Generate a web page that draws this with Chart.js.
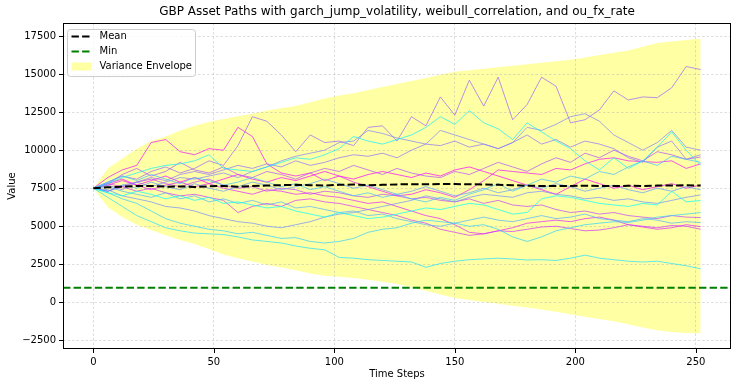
<!DOCTYPE html>
<html>
<head>
<meta charset="utf-8">
<script src="https://cdn.jsdelivr.net/npm/chart.js@4.4.0/dist/chart.umd.min.js"></script>
<style>
  html, body { margin: 0; padding: 0; background: #fff; }
</style>
</head>
<body>
<canvas id="myChart" width="738" height="387"></canvas>
<script>
// time steps
const steps = [0, 6, 12, 18, 24, 30, 36, 42, 48, 54, 60, 66, 72, 78, 84, 90, 96, 102, 108, 114, 120, 126, 132, 138, 144, 150, 156, 162, 168, 174, 180, 186, 192, 198, 204, 210, 216, 222, 228, 234, 240, 246, 252];
const xTicks = [0, 50, 100, 150, 200, 250];
const yTicks = [-2500, 0, 2500, 5000, 7500, 10000, 12500, 15000, 17500];
const xLimits = [-12.6, 264.6];
const yLimits = [-3070, 18360];
const chartTitle = 'GBP Asset Paths with garch_jump_volatility, weibull_correlation, and ou_fx_rate';

const meanValues = [7500, 7560, 7600, 7640, 7650, 7600, 7620, 7580, 7620, 7650, 7600, 7640, 7680, 7700, 7720, 7700, 7680, 7720, 7740, 7700, 7720, 7750, 7760, 7760, 7770, 7770, 7760, 7740, 7720, 7700, 7660, 7650, 7640, 7650, 7660, 7650, 7640, 7660, 7650, 7670, 7680, 7690, 7680];
const minValue = 960;
const envUpper = [7500, 8800, 9450, 10100, 10600, 10900, 11300, 11600, 11850, 12050, 12230, 12400, 12600, 12750, 12900, 13150, 13400, 13600, 13750, 13950, 14150, 14350, 14550, 14750, 14950, 15150, 15250, 15350, 15450, 15550, 15650, 15750, 15850, 15950, 16100, 16250, 16400, 16550, 16800, 17050, 17150, 17250, 17325];
const envLower = [7500, 6250, 5600, 5100, 4750, 4400, 4100, 3830, 3500, 3150, 2900, 2680, 2450, 2280, 2100, 1900, 1750, 1680, 1600, 1480, 1350, 1200, 1000, 760, 520, 280, 150, 20, -100, -220, -350, -480, -620, -780, -950, -1100, -1250, -1450, -1650, -1830, -1950, -2020, -2040];

const pathA = [7500, 7900, 8300, 8100, 8600, 8900, 8500, 8800, 9300, 9000, 10300, 12200, 11900, 11000, 9900, 11000, 10500, 10600, 10300, 11500, 11600, 10600, 12200, 11600, 13500, 12300, 14600, 12900, 14800, 12000, 13000, 14800, 14200, 11800, 12000, 12650, 13900, 13300, 13500, 13450, 14100, 15500, 15300];
const pathB = [7500, 8200, 8700, 9000, 10500, 10700, 9900, 9700, 10100, 10000, 11500, 10900, 9100, 8500, 8300, 8500, 8000, 8300, 7900, 7600, 7300, 7000, 7100, 7400, 7200, 6900, 7400, 8000, 8700, 8600, 8500, 8400, 8800, 8700, 9100, 9400, 9500, 9300, 9250, 9200, 9300, 8800, 9100];
const pathC = [7500, 7800, 8200, 8500, 8800, 9000, 9100, 9300, 9700, 8800, 8700, 8600, 8900, 9200, 9500, 9400, 9700, 10100, 10900, 10600, 10400, 10700, 11000, 11500, 12200, 11700, 12600, 11800, 11400, 10700, 11800, 11200, 10600, 10100, 9300, 8700, 9500, 8800, 9300, 10200, 11200, 10000, 9000];
const pathD = [7500, 7300, 7700, 7900, 7600, 7900, 8200, 8100, 8300, 8500, 8200, 8600, 8900, 9300, 9600, 9800, 10000, 10500, 10600, 11300, 11100, 10800, 10600, 10400, 11300, 11000, 10700, 10400, 10100, 10500, 11500, 11300, 11700, 12200, 12400, 11900, 11000, 10500, 10000, 10500, 11300, 10200, 10000];
const pathE = [7500, 7700, 7400, 7900, 8200, 8000, 8400, 8600, 8400, 8700, 9000, 8800, 9100, 8900, 9300, 9000, 9200, 9500, 9700, 9600, 9800, 9500, 10000, 10400, 10300, 10600, 10200, 10400, 10100, 10500, 11000, 10400, 10700, 10200, 10600, 10400, 10100, 9500, 9200, 10200, 10600, 9400, 9700];
const pathF = [7500, 6900, 6300, 5700, 5300, 4900, 4700, 4550, 4500, 4450, 4300, 4100, 4000, 3900, 3700, 3550, 3450, 2950, 2900, 2800, 2750, 2700, 2650, 2300, 2550, 2700, 2800, 2850, 2900, 2850, 2780, 2800, 2750, 2900, 3100, 2900, 2800, 2700, 2650, 2700, 2550, 2400, 2200];
const pathG = [7500, 7200, 6800, 6500, 6000, 5500, 5200, 5000, 4800, 4700, 4500, 4600, 4400, 4200, 4250, 4000, 3900, 4000, 4200, 4600, 4800, 4900, 5200, 5400, 5300, 5200, 5000, 5100, 4800, 4300, 4000, 4300, 4700, 4900, 5100, 5200, 5300, 5250, 5400, 5600, 5700, 5800, 5900];
const pathH = [7500, 7400, 7000, 6800, 6600, 6300, 6200, 6000, 5700, 5500, 5300, 5200, 5000, 4900, 5100, 5300, 5600, 5800, 5900, 6100, 6300, 6500, 6700, 7000, 6800, 6600, 6900, 7100, 7000, 6900, 7200, 7300, 7100, 7000, 6800, 6900, 6700, 6800, 6600, 6500, 6700, 6900, 7060];
const pathI = [7500, 7800, 7600, 7300, 7500, 7200, 7000, 7100, 6900, 6700, 5900, 6300, 6500, 6300, 6700, 6800, 6600, 6500, 6300, 6100, 5900, 5700, 5400, 5200, 4800, 4600, 4400, 4500, 4700, 4650, 4800, 4950, 5000, 4850, 4700, 4750, 4900, 5100, 5000, 4900, 5050, 5000, 4800];
const pathJ = [7500, 7700, 8000, 7700, 7400, 7700, 7900, 7600, 7800, 7500, 7300, 7100, 7400, 7300, 7100, 7200, 7000, 6900, 6700, 6500, 6600, 6300, 6000, 5700, 5500, 5100, 4600, 4500, 4700, 4900, 5200, 5300, 5400, 5300, 5500, 5600, 5400, 5100, 4950, 4800, 4900, 5100, 4975];
const pathK = [7500, 7300, 7600, 7900, 8100, 7800, 7600, 7900, 8100, 7700, 7500, 7600, 7300, 7500, 7400, 7100, 7300, 7200, 7000, 6900, 7100, 7000, 6800, 6900, 6700, 6600, 6800, 6500, 6700, 6400, 6300, 6400, 6100, 5900, 6000, 5800, 5900, 5700, 5600, 5500, 5700, 5600, 5570];
const pathL = [7500, 7200, 7000, 7300, 7100, 6800, 7000, 6700, 6900, 6500, 6600, 6400, 6200, 6300, 6000, 5800, 5600, 5900, 5700, 5500, 5600, 5800, 6000, 6200, 6100, 6300, 6500, 6400, 6100, 5800, 5900, 6800, 7000, 6900, 6700, 6500, 6400, 6300, 6500, 6400, 7300, 6600, 6690];
const pathM = [7500, 7600, 7300, 7100, 6900, 7200, 6800, 7000, 6600, 6800, 6500, 6700, 6400, 6600, 6200, 6300, 6100, 5900, 6000, 5700, 5800, 5500, 5300, 5100, 5000, 5200, 5400, 5600, 5400, 5300, 5500, 5700, 5500, 5600, 5800, 5500, 5400, 5300, 5500, 5400, 5200, 5300, 5240];
const pathN = [7500, 7900, 8300, 8000, 8400, 8100, 7800, 8200, 8000, 7700, 7900, 8200, 7900, 7600, 7800, 7400, 7600, 7300, 7000, 7200, 6900, 7100, 6800, 6600, 6900, 6700, 7100, 7400, 7800, 7300, 7700, 8100, 7900, 8300, 8100, 8600, 8400, 8900, 9300, 9000, 9600, 9400, 9200];
const pathO = [7500, 7800, 8400, 8800, 8300, 8600, 9200, 8700, 8500, 8900, 8400, 8200, 8600, 8400, 8100, 8500, 8800, 8600, 9000, 8700, 8400, 8800, 8500, 8300, 8200, 8600, 8400, 8800, 9200, 8900, 8600, 9100, 9500, 9200, 9800, 9500, 10000, 9600, 9300, 9900, 9700, 9400, 9550];
const pathP = [7500, 7800, 8100, 7700, 8000, 8300, 7900, 8200, 7800, 8100, 8400, 8100, 7900, 8200, 8000, 8300, 8600, 8300, 8100, 8400, 8600, 8400, 8200, 8500, 8300, 8700, 8900, 8600, 8300, 8000, 7700, 7400, 7100, 7600, 8100, 7800, 7500, 7700, 7400, 7600, 7800, 7500, 7700];
const pathQ = [7500, 7300, 7700, 7500, 7900, 7600, 7400, 7800, 7500, 7300, 7600, 7900, 7700, 7400, 7600, 7800, 8100, 7800, 7500, 7700, 7400, 7100, 7300, 7600, 7300, 7000, 7200, 7500, 7200, 7400, 7700, 7500, 7800, 7600, 7300, 7500, 7700, 7400, 7200, 7500, 7300, 7600, 7400];

const paths = [pathL, pathC, pathF, pathG, pathN, pathM, pathQ, pathH, pathD, pathE, pathA, pathO, pathK, pathI, pathJ, pathB, pathP];
// position of each path on the "cool" colormap (cyan -> magenta)
const pathShades = [0.0, 0.06, 0.12, 0.19, 0.25, 0.31, 0.38, 0.44, 0.5, 0.56, 0.62, 0.69, 0.75, 0.81, 0.88, 0.94, 1.0];

const cool = (t, a) => `rgba(${Math.round(255 * t)},${Math.round(255 * (1 - t))},255,${a})`;
const toPoints = (vals) => vals.map((v, i) => ({ x: steps[i], y: v }));
const fmt = (v) => String(v).replace('-', '\u2212');

const datasets = [
  { label: 'Mean', data: toPoints(meanValues), borderColor: '#000', borderWidth: 2, borderDash: [7.4, 3.2], fill: false },
  { label: 'Min', data: [{ x: xLimits[0], y: minValue }, { x: xLimits[1], y: minValue }], borderColor: '#008000', borderWidth: 2, borderDash: [7.4, 3.2], fill: false },
];
paths.forEach((p, i) => {
  datasets.push({ label: 'path' + i, data: toPoints(p), borderColor: cool(pathShades[i], 0.7), borderWidth: 1, fill: false });
});
datasets.push({ label: 'Variance Envelope', data: toPoints(envUpper), borderWidth: 0, borderColor: 'rgba(0,0,0,0)', backgroundColor: 'rgba(255,255,0,0.36)', fill: '+1' });
datasets.push({ label: 'lower', data: toPoints(envLower), borderWidth: 0, borderColor: 'rgba(0,0,0,0)', fill: false });

const frame = {
  id: 'frame',
  afterDraw(chart) {
    const { ctx, chartArea: a, scales } = chart;
    ctx.save();
    // title centred over the plot area
    ctx.fillStyle = '#000';
    ctx.font = '12px "DejaVu Sans"';
    ctx.textAlign = 'center';
    ctx.textBaseline = 'middle';
    ctx.fillText(chartTitle, (a.left + a.right) / 2, 12);
    ctx.textAlign = 'left';

    ctx.strokeStyle = '#000';
    ctx.lineWidth = 1;
    ctx.strokeRect(a.left + 0.5, a.top + 0.5, a.right - a.left - 1, a.bottom - a.top - 1);
    ctx.beginPath();
    xTicks.forEach(t => {
      const x = Math.round(scales.x.getPixelForValue(t)) + 0.5;
      ctx.moveTo(x, a.bottom); ctx.lineTo(x, a.bottom + 4);
    });
    yTicks.forEach(t => {
      const y = Math.round(scales.y.getPixelForValue(t)) + 0.5;
      ctx.moveTo(a.left, y); ctx.lineTo(a.left - 4, y);
    });
    ctx.stroke();

    // legend box, matplotlib style
    const bx = a.left + 4.5, by = a.top + 6.5, bw = 128, bh = 47;
    ctx.beginPath();
    ctx.roundRect(bx, by, bw, bh, 3);
    ctx.fillStyle = 'rgba(255,255,255,0.8)';
    ctx.fill();
    ctx.strokeStyle = '#cccccc';
    ctx.stroke();
    const rows = [
      { text: 'Mean', color: '#000', kind: 'line' },
      { text: 'Min', color: '#008000', kind: 'line' },
      { text: 'Variance Envelope', color: 'rgba(255,255,0,0.36)', kind: 'box' },
    ];
    ctx.font = '10px "DejaVu Sans"';
    rows.forEach((r, i) => {
      const cy = by + 7 + i * 15;
      if (r.kind === 'line') {
        ctx.beginPath();
        ctx.setLineDash([7.4, 3.2]);
        ctx.lineWidth = 2;
        ctx.strokeStyle = r.color;
        ctx.moveTo(bx + 4, cy); ctx.lineTo(bx + 24, cy);
        ctx.stroke();
        ctx.setLineDash([]);
      } else {
        ctx.fillStyle = r.color;
        ctx.fillRect(bx + 4, cy - 4, 20, 8);
      }
      ctx.fillStyle = '#000';
      ctx.fillText(r.text, bx + 32, cy);
    });
    ctx.restore();
  }
};

const tickFont = { family: 'DejaVu Sans', size: 10 };
const gridOpts = { color: 'rgba(176,176,176,0.55)', lineWidth: 0.8, drawTicks: false };

new Chart(document.getElementById('myChart').getContext('2d'), {
  type: 'line',
  data: { datasets },
  options: {
    responsive: false,
    animation: false,
    layout: { padding: { left: 0, right: 7, top: 23, bottom: 0 } },
    elements: { point: { radius: 0 }, line: { tension: 0 } },
    plugins: {
      legend: { display: false },
      tooltip: { enabled: false },
      filler: { drawTime: 'beforeDraw' },
      title: { display: false },
    },
    scales: {
      x: {
        type: 'linear',
        min: xLimits[0],
        max: xLimits[1],
        afterBuildTicks: (s) => { s.ticks = xTicks.map(v => ({ value: v })); },
        afterFit: (s) => { s.height = 38; },
        grid: gridOpts,
        border: { display: false, dash: [2.5, 2] },
        ticks: { padding: 7, color: '#000', font: tickFont, maxRotation: 0, autoSkip: false, callback: (v) => fmt(v) },
        title: { display: true, text: 'Time Steps', color: '#000', font: tickFont, padding: { top: 0, bottom: 7 } },
      },
      y: {
        type: 'linear',
        min: yLimits[0],
        max: yLimits[1],
        afterBuildTicks: (s) => { s.ticks = yTicks.map(v => ({ value: v })); },
        afterFit: (s) => { s.width = 63; },
        grid: gridOpts,
        border: { display: false, dash: [2.5, 2] },
        ticks: { padding: 7, color: '#000', font: tickFont, autoSkip: false, callback: (v) => fmt(v) },
        title: { display: true, text: 'Value', color: '#000', font: tickFont, padding: { top: 6, bottom: 0 } },
      },
    },
  },
  plugins: [frame],
});
</script>
</body>
</html>
